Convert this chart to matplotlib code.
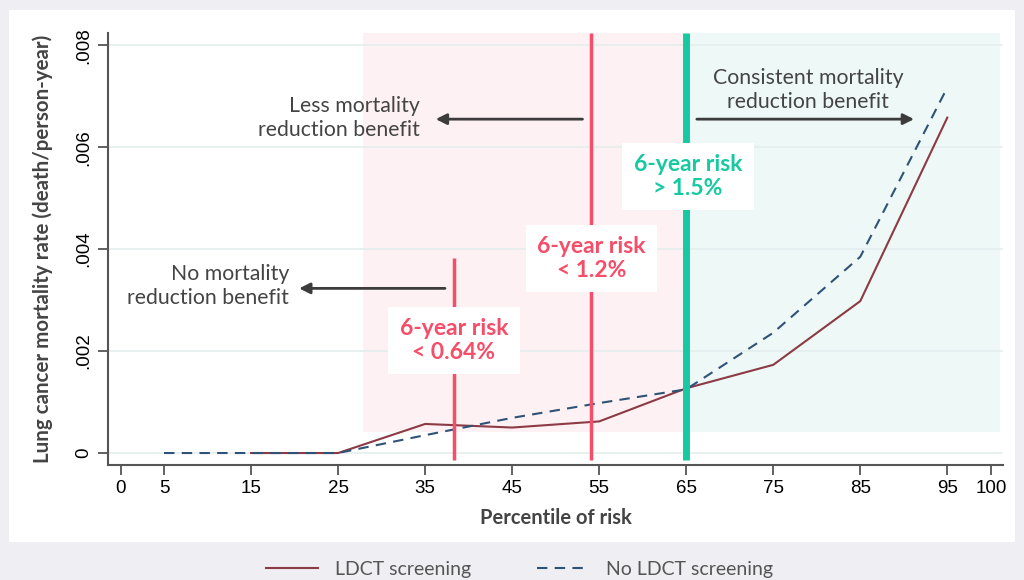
import matplotlib.pyplot as plt
from matplotlib.patches import Rectangle

# Daten
pct_ldct = [15, 25, 35, 45, 55, 65, 75, 85, 95]
rate_ldct = [0, 0, 0.00057, 0.00050, 0.00062, 0.00127, 0.00173, 0.00298, 0.00658]

pct_no = [5, 15, 25, 35, 45, 55, 65, 75, 85, 95]
rate_no = [0, 0, 0, 0.00035, 0.00069, 0.00098, 0.00125, 0.00236, 0.00385, 0.00717]

x_ticks = [0, 5, 15, 25, 35, 45, 55, 65, 75, 85, 95, 100]
y_ticks = [0, 0.002, 0.004, 0.006, 0.008]
y_ticklabels = ["0", ".002", ".004", ".006", ".008"]

cut_064 = 38.3
cut_12 = 54.1
cut_15 = 65.0

RED = "#F64D69"
GREEN = "#17C9A1"
GRAY = "#444444"

fig = plt.figure(figsize=(10.24, 5.8), dpi=100)
fig.patch.set_facecolor("#EEEEF3")
panel = Rectangle((9 / 1024, 1 - 542 / 580), 1006 / 1024, 532 / 580,
                  transform=fig.transFigure, facecolor="white",
                  edgecolor="none", zorder=-10)
fig.add_artist(panel)

ax = fig.add_axes([108 / 1024, 1 - 465 / 580, 895 / 1024, 432 / 580])
ax.set_zorder(1)
ax.set_facecolor("none")
ax.set_xlim(-1.44, 101.4)
ax.set_ylim(-0.000235, 0.00824)

# Hintergrundbereiche
ax.axvspan(27.9, cut_15, ymin=(0.00041 + 0.000235) / 0.008475, ymax=1,
           color="#FEF1F3", lw=0, zorder=0)
ax.axvspan(cut_15, 101.1, ymin=(0.00041 + 0.000235) / 0.008475, ymax=1,
           color="#EEF8F6", lw=0, zorder=0)

for yv in y_ticks:
    ax.axhline(yv, color="#E4EEEE", lw=1.2, zorder=1)

# Kurven
l1, = ax.plot(pct_ldct, rate_ldct, color="#8C3A45", lw=1.5, zorder=3,
              label="LDCT screening")
l2, = ax.plot(pct_no, rate_no, color="#2F5277", lw=1.5, ls=(0, (5, 3.5)),
              zorder=3, label="No LDCT screening")

# Schwellenlinien
ax.vlines(cut_064, -0.00014, 0.00382, color=RED, lw=2.5, zorder=4)
ax.vlines(cut_12, -0.00014, 0.00824, color=RED, lw=2.5, zorder=4)
ax.vlines(cut_15, -0.00014, 0.00824, color=GREEN, lw=5, zorder=4)

box = dict(boxstyle="square,pad=0.5", facecolor="white", edgecolor="none")
kw = dict(fontsize=16.5, fontweight="bold", family="Lato", ha="center",
          va="center", linespacing=1.15, bbox=box, zorder=5)
ax.text(cut_064, 0.00221, "6-year risk\n< 0.64%", color=RED, **kw)
ax.text(cut_12, 0.00382, "6-year risk\n< 1.2%", color=RED, **kw)
ax.text(65.2, 0.00543, "6-year risk\n> 1.5%", color=GREEN, **kw)

# Pfeile + Beschriftungen
arrow = dict(arrowstyle="-|>", color="#3C3C3C", lw=2, mutation_scale=16)
ax.annotate("", xy=(35.9, 0.00655), xytext=(53.4, 0.00655), arrowprops=arrow, zorder=5)
ax.annotate("", xy=(20.2, 0.00323), xytext=(37.6, 0.00323), arrowprops=arrow, zorder=5)
ax.annotate("", xy=(91.5, 0.00655), xytext=(65.9, 0.00655), arrowprops=arrow, zorder=5)

tkw = dict(color=GRAY, fontsize=15.3, family="Lato", va="center", linespacing=1.25)
ax.text(34.4, 0.00657, "Less mortality\nreduction benefit", ha="right",
        multialignment="right", **tkw)
ax.text(19.4, 0.00327, "No mortality\nreduction benefit", ha="right",
        multialignment="right", **tkw)
ax.text(79.0, 0.00713, "Consistent mortality\nreduction benefit", ha="center",
        multialignment="center", **tkw)

# Achsen
for s in ["top", "right"]:
    ax.spines[s].set_visible(False)
for s in ["left", "bottom"]:
    ax.spines[s].set_color("#555555")
    ax.spines[s].set_linewidth(1.5)

ax.set_xticks(x_ticks)
ax.set_xticklabels([str(v) for v in x_ticks], family="Liberation Sans", fontsize=13.5)
ax.set_yticks(y_ticks)
ax.set_yticklabels(y_ticklabels, family="Liberation Sans", fontsize=13.5,
                   rotation=90, va="center")
ax.tick_params(axis="both", length=7, width=1.3, color="#555555", pad=4)

ax.set_xlabel("Percentile of risk", fontsize=14.5, fontweight="bold",
              family="Lato", color=GRAY, labelpad=8)
ax.set_ylabel("Lung cancer mortality rate (death/person-year)", fontsize=14.8,
              fontweight="bold", family="Lato", color=GRAY, labelpad=16)

leg = fig.legend(handles=[l1, l2], loc="center", bbox_to_anchor=(0.507, 0.018),
                 ncol=2, frameon=False, handlelength=2.7, handletextpad=0.85,
                 columnspacing=3.4, prop={"family": "Lato", "size": 14})
for t in leg.get_texts():
    t.set_color("#555555")

plt.savefig("out.png", dpi=100, facecolor=fig.get_facecolor())
